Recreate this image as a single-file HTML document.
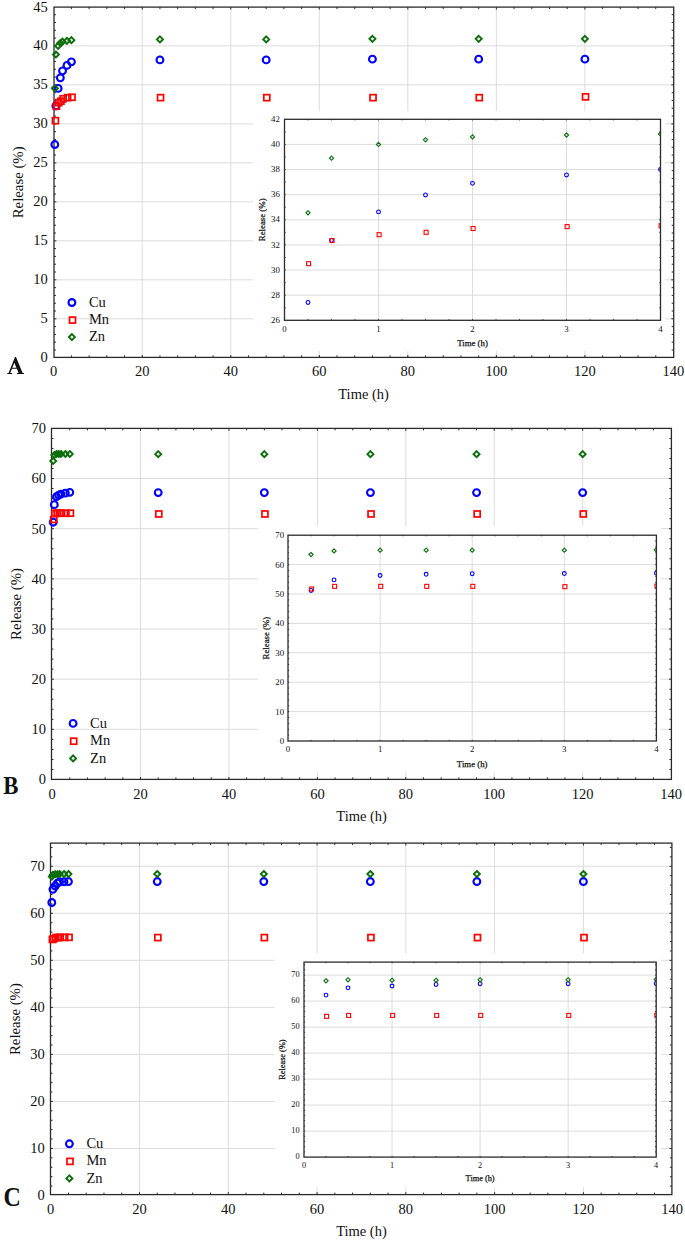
<!DOCTYPE html>
<html><head><meta charset="utf-8"><title>Release chart</title>
<style>
html,body{margin:0;padding:0;background:#fff;}
body{width:685px;height:1242px;overflow:hidden;font-family:"Liberation Serif",serif;}
svg{display:block;}
</style></head><body>
<svg width="685" height="1242" viewBox="0 0 685 1242" font-family='"Liberation Serif", serif'>
<rect width="685" height="1242" fill="#fff"/>
<line x1="142.24" y1="7.1" x2="142.24" y2="357.4" stroke="#dcdcdc" stroke-width="1"/>
<line x1="230.77" y1="7.1" x2="230.77" y2="357.4" stroke="#dcdcdc" stroke-width="1"/>
<line x1="319.31" y1="7.1" x2="319.31" y2="357.4" stroke="#dcdcdc" stroke-width="1"/>
<line x1="407.84" y1="7.1" x2="407.84" y2="357.4" stroke="#dcdcdc" stroke-width="1"/>
<line x1="496.38" y1="7.1" x2="496.38" y2="357.4" stroke="#dcdcdc" stroke-width="1"/>
<line x1="584.91" y1="7.1" x2="584.91" y2="357.4" stroke="#dcdcdc" stroke-width="1"/>
<line x1="54" y1="318.81" x2="673.7" y2="318.81" stroke="#dcdcdc" stroke-width="1"/>
<line x1="54" y1="279.82" x2="673.7" y2="279.82" stroke="#dcdcdc" stroke-width="1"/>
<line x1="54" y1="240.83" x2="673.7" y2="240.83" stroke="#dcdcdc" stroke-width="1"/>
<line x1="54" y1="201.84" x2="673.7" y2="201.84" stroke="#dcdcdc" stroke-width="1"/>
<line x1="54" y1="162.86" x2="673.7" y2="162.86" stroke="#dcdcdc" stroke-width="1"/>
<line x1="54" y1="123.87" x2="673.7" y2="123.87" stroke="#dcdcdc" stroke-width="1"/>
<line x1="54" y1="84.88" x2="673.7" y2="84.88" stroke="#dcdcdc" stroke-width="1"/>
<line x1="54" y1="45.89" x2="673.7" y2="45.89" stroke="#dcdcdc" stroke-width="1"/>
<path d="M71.41 357.4v-2M71.41 7.1v2M89.11 357.4v-2M89.11 7.1v2M106.82 357.4v-2M106.82 7.1v2M124.53 357.4v-2M124.53 7.1v2M142.24 357.4v-2.4M142.24 7.1v2.4M159.94 357.4v-2M159.94 7.1v2M177.65 357.4v-2M177.65 7.1v2M195.36 357.4v-2M195.36 7.1v2M213.06 357.4v-2M213.06 7.1v2M230.77 357.4v-2.4M230.77 7.1v2.4M248.48 357.4v-2M248.48 7.1v2M266.19 357.4v-2M266.19 7.1v2M283.89 357.4v-2M283.89 7.1v2M301.6 357.4v-2M301.6 7.1v2M319.31 357.4v-2.4M319.31 7.1v2.4M337.01 357.4v-2M337.01 7.1v2M354.72 357.4v-2M354.72 7.1v2M372.43 357.4v-2M372.43 7.1v2M390.14 357.4v-2M390.14 7.1v2M407.84 357.4v-2.4M407.84 7.1v2.4M425.55 357.4v-2M425.55 7.1v2M443.26 357.4v-2M443.26 7.1v2M460.96 357.4v-2M460.96 7.1v2M478.67 357.4v-2M478.67 7.1v2M496.38 357.4v-2.4M496.38 7.1v2.4M514.09 357.4v-2M514.09 7.1v2M531.79 357.4v-2M531.79 7.1v2M549.5 357.4v-2M549.5 7.1v2M567.21 357.4v-2M567.21 7.1v2M584.91 357.4v-2.4M584.91 7.1v2.4M602.62 357.4v-2M602.62 7.1v2M620.33 357.4v-2M620.33 7.1v2M638.04 357.4v-2M638.04 7.1v2M655.74 357.4v-2M655.74 7.1v2M54 350h2M673.7 350h-2M54 342.2h2M673.7 342.2h-2M54 334.41h2M673.7 334.41h-2M54 326.61h2M673.7 326.61h-2M54 318.81h2.4M673.7 318.81h-2.4M54 311.01h2M673.7 311.01h-2M54 303.22h2M673.7 303.22h-2M54 295.42h2M673.7 295.42h-2M54 287.62h2M673.7 287.62h-2M54 279.82h2.4M673.7 279.82h-2.4M54 272.02h2M673.7 272.02h-2M54 264.23h2M673.7 264.23h-2M54 256.43h2M673.7 256.43h-2M54 248.63h2M673.7 248.63h-2M54 240.83h2.4M673.7 240.83h-2.4M54 233.04h2M673.7 233.04h-2M54 225.24h2M673.7 225.24h-2M54 217.44h2M673.7 217.44h-2M54 209.64h2M673.7 209.64h-2M54 201.84h2.4M673.7 201.84h-2.4M54 194.05h2M673.7 194.05h-2M54 186.25h2M673.7 186.25h-2M54 178.45h2M673.7 178.45h-2M54 170.65h2M673.7 170.65h-2M54 162.86h2.4M673.7 162.86h-2.4M54 155.06h2M673.7 155.06h-2M54 147.26h2M673.7 147.26h-2M54 139.46h2M673.7 139.46h-2M54 131.66h2M673.7 131.66h-2M54 123.87h2.4M673.7 123.87h-2.4M54 116.07h2M673.7 116.07h-2M54 108.27h2M673.7 108.27h-2M54 100.47h2M673.7 100.47h-2M54 92.68h2M673.7 92.68h-2M54 84.88h2.4M673.7 84.88h-2.4M54 77.08h2M673.7 77.08h-2M54 69.28h2M673.7 69.28h-2M54 61.48h2M673.7 61.48h-2M54 53.69h2M673.7 53.69h-2M54 45.89h2.4M673.7 45.89h-2.4M54 38.09h2M673.7 38.09h-2M54 30.29h2M673.7 30.29h-2M54 22.5h2M673.7 22.5h-2M54 14.7h2M673.7 14.7h-2" stroke="#2b2b2b" stroke-width="1" fill="none"/>
<rect x="54" y="7.1" width="619.7" height="350.3" fill="none" stroke="#2b2b2b" stroke-width="1.3"/>
<text x="53.7" y="376.2" font-size="14.5" text-anchor="middle" font-weight="normal" fill="#111">0</text>
<text x="142.24" y="376.2" font-size="14.5" text-anchor="middle" font-weight="normal" fill="#111">20</text>
<text x="230.77" y="376.2" font-size="14.5" text-anchor="middle" font-weight="normal" fill="#111">40</text>
<text x="319.31" y="376.2" font-size="14.5" text-anchor="middle" font-weight="normal" fill="#111">60</text>
<text x="407.84" y="376.2" font-size="14.5" text-anchor="middle" font-weight="normal" fill="#111">80</text>
<text x="496.38" y="376.2" font-size="14.5" text-anchor="middle" font-weight="normal" fill="#111">100</text>
<text x="584.91" y="376.2" font-size="14.5" text-anchor="middle" font-weight="normal" fill="#111">120</text>
<text x="673.45" y="376.2" font-size="14.5" text-anchor="middle" font-weight="normal" fill="#111">140</text>
<text x="47.7" y="362.4" font-size="14.5" text-anchor="end" font-weight="normal" fill="#111">0</text>
<text x="47.7" y="323.41" font-size="14.5" text-anchor="end" font-weight="normal" fill="#111">5</text>
<text x="47.7" y="284.42" font-size="14.5" text-anchor="end" font-weight="normal" fill="#111">10</text>
<text x="47.7" y="245.43" font-size="14.5" text-anchor="end" font-weight="normal" fill="#111">15</text>
<text x="47.7" y="206.44" font-size="14.5" text-anchor="end" font-weight="normal" fill="#111">20</text>
<text x="47.7" y="167.46" font-size="14.5" text-anchor="end" font-weight="normal" fill="#111">25</text>
<text x="47.7" y="128.47" font-size="14.5" text-anchor="end" font-weight="normal" fill="#111">30</text>
<text x="47.7" y="89.48" font-size="14.5" text-anchor="end" font-weight="normal" fill="#111">35</text>
<text x="47.7" y="50.49" font-size="14.5" text-anchor="end" font-weight="normal" fill="#111">40</text>
<text x="47.7" y="11.5" font-size="14.5" text-anchor="end" font-weight="normal" fill="#111">45</text>
<text x="363.57" y="398.8" font-size="14.5" text-anchor="middle" font-weight="normal" fill="#111">Time (h)</text>
<text x="23.3" y="182.35" font-size="14.8" text-anchor="middle" font-weight="normal" fill="#111" transform="rotate(-90 23.3 182.35)">Release (%)</text>
<path fill-rule="evenodd" fill="#111" d="M7.2 373.9L12.2 373.9L12.2 372.9L10.3 372.9L11.9 368.8L16.9 368.8L18.6 372.9L16.9 372.9L16.9 373.9L23.9 373.9L23.9 372.9L22.6 372.9L16 357L15 357L8.6 372.9L7.2 372.9Z M12.3 367.7L16.4 367.7L14.34 362.66Z"/>
<circle cx="71.9" cy="302.5" r="3.4" fill="none" stroke="#0000ff" stroke-width="2.1"/>
<text x="88.9" y="306.7" font-size="14.5" text-anchor="start" font-weight="normal" fill="#111">Cu</text>
<rect x="69.5" y="317.1" width="6" height="6" fill="none" stroke="#ff0000" stroke-width="1.7"/>
<text x="88.9" y="324" font-size="14.5" text-anchor="start" font-weight="normal" fill="#111">Mn</text>
<path d="M71.9 334.1L74.9 337.1L71.9 340.1L68.9 337.1Z" fill="none" stroke="#0b6e0b" stroke-width="1.9" stroke-linejoin="miter"/>
<text x="88.9" y="341.3" font-size="14.5" text-anchor="start" font-weight="normal" fill="#111">Zn</text>
<circle cx="54.81" cy="144.53" r="3.4" fill="none" stroke="#0000ff" stroke-width="2.1"/>
<circle cx="55.91" cy="105.93" r="3.4" fill="none" stroke="#0000ff" stroke-width="2.1"/>
<circle cx="58.13" cy="88.39" r="3.4" fill="none" stroke="#0000ff" stroke-width="2.1"/>
<circle cx="60.34" cy="77.86" r="3.4" fill="none" stroke="#0000ff" stroke-width="2.1"/>
<circle cx="62.55" cy="70.84" r="3.4" fill="none" stroke="#0000ff" stroke-width="2.1"/>
<circle cx="66.98" cy="65.38" r="3.4" fill="none" stroke="#0000ff" stroke-width="2.1"/>
<circle cx="71.41" cy="61.87" r="3.4" fill="none" stroke="#0000ff" stroke-width="2.1"/>
<circle cx="159.94" cy="59.92" r="3.4" fill="none" stroke="#0000ff" stroke-width="2.1"/>
<circle cx="266.19" cy="59.92" r="3.4" fill="none" stroke="#0000ff" stroke-width="2.1"/>
<circle cx="372.43" cy="59.15" r="3.4" fill="none" stroke="#0000ff" stroke-width="2.1"/>
<circle cx="478.67" cy="59.15" r="3.4" fill="none" stroke="#0000ff" stroke-width="2.1"/>
<circle cx="584.91" cy="59.15" r="3.4" fill="none" stroke="#0000ff" stroke-width="2.1"/>
<rect x="52.41" y="117.66" width="6" height="6" fill="none" stroke="#ff0000" stroke-width="1.7"/>
<rect x="53.51" y="103.23" width="6" height="6" fill="none" stroke="#ff0000" stroke-width="1.7"/>
<rect x="55.73" y="99.72" width="6" height="6" fill="none" stroke="#ff0000" stroke-width="1.7"/>
<rect x="57.94" y="98.16" width="6" height="6" fill="none" stroke="#ff0000" stroke-width="1.7"/>
<rect x="60.15" y="95.82" width="6" height="6" fill="none" stroke="#ff0000" stroke-width="1.7"/>
<rect x="64.58" y="94.65" width="6" height="6" fill="none" stroke="#ff0000" stroke-width="1.7"/>
<rect x="69.01" y="94.26" width="6" height="6" fill="none" stroke="#ff0000" stroke-width="1.7"/>
<rect x="157.54" y="94.65" width="6" height="6" fill="none" stroke="#ff0000" stroke-width="1.7"/>
<rect x="263.79" y="94.65" width="6" height="6" fill="none" stroke="#ff0000" stroke-width="1.7"/>
<rect x="370.03" y="94.65" width="6" height="6" fill="none" stroke="#ff0000" stroke-width="1.7"/>
<rect x="476.27" y="94.65" width="6" height="6" fill="none" stroke="#ff0000" stroke-width="1.7"/>
<rect x="582.51" y="93.87" width="6" height="6" fill="none" stroke="#ff0000" stroke-width="1.7"/>
<path d="M54.81 85.31L57.81 88.31L54.81 91.31L51.81 88.31Z" fill="none" stroke="#0b6e0b" stroke-width="1.9" stroke-linejoin="miter"/>
<path d="M55.91 51.47L58.91 54.47L55.91 57.47L52.91 54.47Z" fill="none" stroke="#0b6e0b" stroke-width="1.9" stroke-linejoin="miter"/>
<path d="M58.13 42.89L61.13 45.89L58.13 48.89L55.13 45.89Z" fill="none" stroke="#0b6e0b" stroke-width="1.9" stroke-linejoin="miter"/>
<path d="M60.34 40L63.34 43L60.34 46L57.34 43Z" fill="none" stroke="#0b6e0b" stroke-width="1.9" stroke-linejoin="miter"/>
<path d="M62.55 38.6L65.55 41.6L62.55 44.6L59.55 41.6Z" fill="none" stroke="#0b6e0b" stroke-width="1.9" stroke-linejoin="miter"/>
<path d="M66.98 37.82L69.98 40.82L66.98 43.82L63.98 40.82Z" fill="none" stroke="#0b6e0b" stroke-width="1.9" stroke-linejoin="miter"/>
<path d="M71.41 37.2L74.41 40.2L71.41 43.2L68.41 40.2Z" fill="none" stroke="#0b6e0b" stroke-width="1.9" stroke-linejoin="miter"/>
<path d="M159.94 36.42L162.94 39.42L159.94 42.42L156.94 39.42Z" fill="none" stroke="#0b6e0b" stroke-width="1.9" stroke-linejoin="miter"/>
<path d="M266.19 36.42L269.19 39.42L266.19 42.42L263.19 39.42Z" fill="none" stroke="#0b6e0b" stroke-width="1.9" stroke-linejoin="miter"/>
<path d="M372.43 35.87L375.43 38.87L372.43 41.87L369.43 38.87Z" fill="none" stroke="#0b6e0b" stroke-width="1.9" stroke-linejoin="miter"/>
<path d="M478.67 35.87L481.67 38.87L478.67 41.87L475.67 38.87Z" fill="none" stroke="#0b6e0b" stroke-width="1.9" stroke-linejoin="miter"/>
<path d="M584.91 35.87L587.91 38.87L584.91 41.87L581.91 38.87Z" fill="none" stroke="#0b6e0b" stroke-width="1.9" stroke-linejoin="miter"/>
<rect x="253" y="111" width="412" height="240" fill="#fff"/>
<line x1="378.5" y1="119.3" x2="378.5" y2="320.3" stroke="#dcdcdc" stroke-width="1"/>
<line x1="472.5" y1="119.3" x2="472.5" y2="320.3" stroke="#dcdcdc" stroke-width="1"/>
<line x1="566.5" y1="119.3" x2="566.5" y2="320.3" stroke="#dcdcdc" stroke-width="1"/>
<line x1="284.5" y1="295.18" x2="660.5" y2="295.18" stroke="#dcdcdc" stroke-width="1"/>
<line x1="284.5" y1="270.05" x2="660.5" y2="270.05" stroke="#dcdcdc" stroke-width="1"/>
<line x1="284.5" y1="244.93" x2="660.5" y2="244.93" stroke="#dcdcdc" stroke-width="1"/>
<line x1="284.5" y1="219.8" x2="660.5" y2="219.8" stroke="#dcdcdc" stroke-width="1"/>
<line x1="284.5" y1="194.68" x2="660.5" y2="194.68" stroke="#dcdcdc" stroke-width="1"/>
<line x1="284.5" y1="169.55" x2="660.5" y2="169.55" stroke="#dcdcdc" stroke-width="1"/>
<line x1="284.5" y1="144.43" x2="660.5" y2="144.43" stroke="#dcdcdc" stroke-width="1"/>
<text x="284.5" y="331.6" font-size="8.8" text-anchor="middle" font-weight="normal" fill="#111">0</text>
<text x="378.5" y="331.6" font-size="8.8" text-anchor="middle" font-weight="normal" fill="#111">1</text>
<text x="472.5" y="331.6" font-size="8.8" text-anchor="middle" font-weight="normal" fill="#111">2</text>
<text x="566.5" y="331.6" font-size="8.8" text-anchor="middle" font-weight="normal" fill="#111">3</text>
<text x="660.5" y="331.6" font-size="8.8" text-anchor="middle" font-weight="normal" fill="#111">4</text>
<text x="279.9" y="322.9" font-size="8.8" text-anchor="end" font-weight="normal" fill="#111">26</text>
<text x="279.9" y="297.78" font-size="8.8" text-anchor="end" font-weight="normal" fill="#111">28</text>
<text x="279.9" y="272.65" font-size="8.8" text-anchor="end" font-weight="normal" fill="#111">30</text>
<text x="279.9" y="247.53" font-size="8.8" text-anchor="end" font-weight="normal" fill="#111">32</text>
<text x="279.9" y="222.4" font-size="8.8" text-anchor="end" font-weight="normal" fill="#111">34</text>
<text x="279.9" y="197.28" font-size="8.8" text-anchor="end" font-weight="normal" fill="#111">36</text>
<text x="279.9" y="172.15" font-size="8.8" text-anchor="end" font-weight="normal" fill="#111">38</text>
<text x="279.9" y="147.03" font-size="8.8" text-anchor="end" font-weight="normal" fill="#111">40</text>
<text x="279.9" y="121.9" font-size="8.8" text-anchor="end" font-weight="normal" fill="#111">42</text>
<text x="472.5" y="345.9" font-size="8.8" text-anchor="middle" font-weight="normal" fill="#111" stroke="#111" stroke-width="0.25">Time (h)</text>
<text x="264.8" y="219.8" font-size="8.8" text-anchor="middle" font-weight="normal" fill="#111" stroke="#111" stroke-width="0.25" transform="rotate(-90 264.8 219.8)">Release (%)</text>
<clipPath id="clipA"><rect x="284.5" y="119.3" width="376" height="201"/></clipPath>
<g clip-path="url(#clipA)">
<circle cx="308" cy="302.46" r="1.9" fill="none" stroke="#0000ff" stroke-width="1.1"/>
<circle cx="331.5" cy="240.28" r="1.9" fill="none" stroke="#0000ff" stroke-width="1.1"/>
<circle cx="378.5" cy="211.89" r="1.9" fill="none" stroke="#0000ff" stroke-width="1.1"/>
<circle cx="425.5" cy="194.93" r="1.9" fill="none" stroke="#0000ff" stroke-width="1.1"/>
<circle cx="472.5" cy="183.37" r="1.9" fill="none" stroke="#0000ff" stroke-width="1.1"/>
<circle cx="566.5" cy="174.95" r="1.9" fill="none" stroke="#0000ff" stroke-width="1.1"/>
<circle cx="660.5" cy="169.55" r="1.9" fill="none" stroke="#0000ff" stroke-width="1.1"/>
<rect x="306.6" y="261.69" width="4" height="4" fill="none" stroke="#ff0000" stroke-width="1.1"/>
<rect x="330.1" y="238.58" width="4" height="4" fill="none" stroke="#ff0000" stroke-width="1.1"/>
<rect x="377.1" y="232.67" width="4" height="4" fill="none" stroke="#ff0000" stroke-width="1.1"/>
<rect x="424.1" y="230.29" width="4" height="4" fill="none" stroke="#ff0000" stroke-width="1.1"/>
<rect x="471.1" y="226.52" width="4" height="4" fill="none" stroke="#ff0000" stroke-width="1.1"/>
<rect x="565.1" y="224.63" width="4" height="4" fill="none" stroke="#ff0000" stroke-width="1.1"/>
<rect x="659.1" y="223.75" width="4" height="4" fill="none" stroke="#ff0000" stroke-width="1.1"/>
<path d="M308 210.66L310.1 212.76L308 214.86L305.9 212.76Z" fill="none" stroke="#0b6e0b" stroke-width="1.1" stroke-linejoin="miter"/>
<path d="M331.5 156.14L333.6 158.24L331.5 160.34L329.4 158.24Z" fill="none" stroke="#0b6e0b" stroke-width="1.1" stroke-linejoin="miter"/>
<path d="M378.5 142.33L380.6 144.43L378.5 146.53L376.4 144.43Z" fill="none" stroke="#0b6e0b" stroke-width="1.1" stroke-linejoin="miter"/>
<path d="M425.5 137.68L427.6 139.78L425.5 141.88L423.4 139.78Z" fill="none" stroke="#0b6e0b" stroke-width="1.1" stroke-linejoin="miter"/>
<path d="M472.5 134.79L474.6 136.89L472.5 138.99L470.4 136.89Z" fill="none" stroke="#0b6e0b" stroke-width="1.1" stroke-linejoin="miter"/>
<path d="M566.5 132.9L568.6 135L566.5 137.1L564.4 135Z" fill="none" stroke="#0b6e0b" stroke-width="1.1" stroke-linejoin="miter"/>
<path d="M660.5 132.02L662.6 134.12L660.5 136.22L658.4 134.12Z" fill="none" stroke="#0b6e0b" stroke-width="1.1" stroke-linejoin="miter"/>
</g>
<path d="M308 320.3v-1.1M308 119.3v1.1M331.5 320.3v-1.1M331.5 119.3v1.1M355 320.3v-1.1M355 119.3v1.1M378.5 320.3v-1.1M378.5 119.3v1.1M402 320.3v-1.1M402 119.3v1.1M425.5 320.3v-1.1M425.5 119.3v1.1M449 320.3v-1.1M449 119.3v1.1M472.5 320.3v-1.1M472.5 119.3v1.1M496 320.3v-1.1M496 119.3v1.1M519.5 320.3v-1.1M519.5 119.3v1.1M543 320.3v-1.1M543 119.3v1.1M566.5 320.3v-1.1M566.5 119.3v1.1M590 320.3v-1.1M590 119.3v1.1M613.5 320.3v-1.1M613.5 119.3v1.1M637 320.3v-1.1M637 119.3v1.1M284.5 307.74h1.1M660.5 307.74h-1.1M284.5 295.18h1.1M660.5 295.18h-1.1M284.5 282.61h1.1M660.5 282.61h-1.1M284.5 270.05h1.1M660.5 270.05h-1.1M284.5 257.49h1.1M660.5 257.49h-1.1M284.5 244.93h1.1M660.5 244.93h-1.1M284.5 232.36h1.1M660.5 232.36h-1.1M284.5 219.8h1.1M660.5 219.8h-1.1M284.5 207.24h1.1M660.5 207.24h-1.1M284.5 194.68h1.1M660.5 194.68h-1.1M284.5 182.11h1.1M660.5 182.11h-1.1M284.5 169.55h1.1M660.5 169.55h-1.1M284.5 156.99h1.1M660.5 156.99h-1.1M284.5 144.43h1.1M660.5 144.43h-1.1M284.5 131.86h1.1M660.5 131.86h-1.1" stroke="#2b2b2b" stroke-width="1" fill="none"/>
<rect x="284.5" y="119.3" width="376" height="201" fill="none" stroke="#2b2b2b" stroke-width="1.3"/>
<line x1="140.53" y1="428.4" x2="140.53" y2="779.4" stroke="#dcdcdc" stroke-width="1"/>
<line x1="228.96" y1="428.4" x2="228.96" y2="779.4" stroke="#dcdcdc" stroke-width="1"/>
<line x1="317.39" y1="428.4" x2="317.39" y2="779.4" stroke="#dcdcdc" stroke-width="1"/>
<line x1="405.81" y1="428.4" x2="405.81" y2="779.4" stroke="#dcdcdc" stroke-width="1"/>
<line x1="494.24" y1="428.4" x2="494.24" y2="779.4" stroke="#dcdcdc" stroke-width="1"/>
<line x1="582.67" y1="428.4" x2="582.67" y2="779.4" stroke="#dcdcdc" stroke-width="1"/>
<line x1="51.5" y1="729.34" x2="671.4" y2="729.34" stroke="#dcdcdc" stroke-width="1"/>
<line x1="51.5" y1="679.19" x2="671.4" y2="679.19" stroke="#dcdcdc" stroke-width="1"/>
<line x1="51.5" y1="629.03" x2="671.4" y2="629.03" stroke="#dcdcdc" stroke-width="1"/>
<line x1="51.5" y1="578.87" x2="671.4" y2="578.87" stroke="#dcdcdc" stroke-width="1"/>
<line x1="51.5" y1="528.71" x2="671.4" y2="528.71" stroke="#dcdcdc" stroke-width="1"/>
<line x1="51.5" y1="478.56" x2="671.4" y2="478.56" stroke="#dcdcdc" stroke-width="1"/>
<path d="M69.79 779.4v-2M69.79 428.4v2M87.47 779.4v-2M87.47 428.4v2M105.16 779.4v-2M105.16 428.4v2M122.84 779.4v-2M122.84 428.4v2M140.53 779.4v-2.4M140.53 428.4v2.4M158.21 779.4v-2M158.21 428.4v2M175.9 779.4v-2M175.9 428.4v2M193.59 779.4v-2M193.59 428.4v2M211.27 779.4v-2M211.27 428.4v2M228.96 779.4v-2.4M228.96 428.4v2.4M246.64 779.4v-2M246.64 428.4v2M264.33 779.4v-2M264.33 428.4v2M282.01 779.4v-2M282.01 428.4v2M299.7 779.4v-2M299.7 428.4v2M317.39 779.4v-2.4M317.39 428.4v2.4M335.07 779.4v-2M335.07 428.4v2M352.76 779.4v-2M352.76 428.4v2M370.44 779.4v-2M370.44 428.4v2M388.13 779.4v-2M388.13 428.4v2M405.81 779.4v-2.4M405.81 428.4v2.4M423.5 779.4v-2M423.5 428.4v2M441.19 779.4v-2M441.19 428.4v2M458.87 779.4v-2M458.87 428.4v2M476.56 779.4v-2M476.56 428.4v2M494.24 779.4v-2.4M494.24 428.4v2.4M511.93 779.4v-2M511.93 428.4v2M529.61 779.4v-2M529.61 428.4v2M547.3 779.4v-2M547.3 428.4v2M564.99 779.4v-2M564.99 428.4v2M582.67 779.4v-2.4M582.67 428.4v2.4M600.36 779.4v-2M600.36 428.4v2M618.04 779.4v-2M618.04 428.4v2M635.73 779.4v-2M635.73 428.4v2M653.41 779.4v-2M653.41 428.4v2M51.5 769.47h2M671.4 769.47h-2M51.5 759.44h2M671.4 759.44h-2M51.5 749.41h2M671.4 749.41h-2M51.5 739.37h2M671.4 739.37h-2M51.5 729.34h2.4M671.4 729.34h-2.4M51.5 719.31h2M671.4 719.31h-2M51.5 709.28h2M671.4 709.28h-2M51.5 699.25h2M671.4 699.25h-2M51.5 689.22h2M671.4 689.22h-2M51.5 679.19h2.4M671.4 679.19h-2.4M51.5 669.15h2M671.4 669.15h-2M51.5 659.12h2M671.4 659.12h-2M51.5 649.09h2M671.4 649.09h-2M51.5 639.06h2M671.4 639.06h-2M51.5 629.03h2.4M671.4 629.03h-2.4M51.5 619h2M671.4 619h-2M51.5 608.97h2M671.4 608.97h-2M51.5 598.93h2M671.4 598.93h-2M51.5 588.9h2M671.4 588.9h-2M51.5 578.87h2.4M671.4 578.87h-2.4M51.5 568.84h2M671.4 568.84h-2M51.5 558.81h2M671.4 558.81h-2M51.5 548.78h2M671.4 548.78h-2M51.5 538.75h2M671.4 538.75h-2M51.5 528.71h2.4M671.4 528.71h-2.4M51.5 518.68h2M671.4 518.68h-2M51.5 508.65h2M671.4 508.65h-2M51.5 498.62h2M671.4 498.62h-2M51.5 488.59h2M671.4 488.59h-2M51.5 478.56h2.4M671.4 478.56h-2.4M51.5 468.53h2M671.4 468.53h-2M51.5 458.49h2M671.4 458.49h-2M51.5 448.46h2M671.4 448.46h-2M51.5 438.43h2M671.4 438.43h-2" stroke="#2b2b2b" stroke-width="1" fill="none"/>
<rect x="51.5" y="428.4" width="619.9" height="351" fill="none" stroke="#2b2b2b" stroke-width="1.3"/>
<text x="52.1" y="798.5" font-size="14.5" text-anchor="middle" font-weight="normal" fill="#111">0</text>
<text x="140.53" y="798.5" font-size="14.5" text-anchor="middle" font-weight="normal" fill="#111">20</text>
<text x="228.96" y="798.5" font-size="14.5" text-anchor="middle" font-weight="normal" fill="#111">40</text>
<text x="317.39" y="798.5" font-size="14.5" text-anchor="middle" font-weight="normal" fill="#111">60</text>
<text x="405.81" y="798.5" font-size="14.5" text-anchor="middle" font-weight="normal" fill="#111">80</text>
<text x="494.24" y="798.5" font-size="14.5" text-anchor="middle" font-weight="normal" fill="#111">100</text>
<text x="582.67" y="798.5" font-size="14.5" text-anchor="middle" font-weight="normal" fill="#111">120</text>
<text x="671.1" y="798.5" font-size="14.5" text-anchor="middle" font-weight="normal" fill="#111">140</text>
<text x="46.1" y="784.3" font-size="14.5" text-anchor="end" font-weight="normal" fill="#111">0</text>
<text x="46.1" y="734.14" font-size="14.5" text-anchor="end" font-weight="normal" fill="#111">10</text>
<text x="46.1" y="683.99" font-size="14.5" text-anchor="end" font-weight="normal" fill="#111">20</text>
<text x="46.1" y="633.83" font-size="14.5" text-anchor="end" font-weight="normal" fill="#111">30</text>
<text x="46.1" y="583.67" font-size="14.5" text-anchor="end" font-weight="normal" fill="#111">40</text>
<text x="46.1" y="533.51" font-size="14.5" text-anchor="end" font-weight="normal" fill="#111">50</text>
<text x="46.1" y="483.36" font-size="14.5" text-anchor="end" font-weight="normal" fill="#111">60</text>
<text x="46.1" y="433.2" font-size="14.5" text-anchor="end" font-weight="normal" fill="#111">70</text>
<text x="361.6" y="821.3" font-size="14.5" text-anchor="middle" font-weight="normal" fill="#111">Time (h)</text>
<text x="21" y="603.95" font-size="14.8" text-anchor="middle" font-weight="normal" fill="#111" transform="rotate(-90 21 603.95)">Release (%)</text>
<text transform="translate(3.3 793.9) scale(0.95 1.07)" font-size="24" font-weight="bold" fill="#111">B</text>
<circle cx="73.1" cy="723.4" r="3.4" fill="none" stroke="#0000ff" stroke-width="2.1"/>
<text x="90.1" y="727.6" font-size="14.5" text-anchor="start" font-weight="normal" fill="#111">Cu</text>
<rect x="70.7" y="738.2" width="6" height="6" fill="none" stroke="#ff0000" stroke-width="1.7"/>
<text x="90.1" y="745.1" font-size="14.5" text-anchor="start" font-weight="normal" fill="#111">Mn</text>
<path d="M73.1 755.4L76.1 758.4L73.1 761.4L70.1 758.4Z" fill="none" stroke="#0b6e0b" stroke-width="1.9" stroke-linejoin="miter"/>
<text x="90.1" y="762.6" font-size="14.5" text-anchor="start" font-weight="normal" fill="#111">Zn</text>
<circle cx="53.21" cy="522.19" r="3.4" fill="none" stroke="#0000ff" stroke-width="2.1"/>
<circle cx="54.31" cy="504.64" r="3.4" fill="none" stroke="#0000ff" stroke-width="2.1"/>
<circle cx="56.52" cy="496.61" r="3.4" fill="none" stroke="#0000ff" stroke-width="2.1"/>
<circle cx="58.73" cy="495.11" r="3.4" fill="none" stroke="#0000ff" stroke-width="2.1"/>
<circle cx="60.94" cy="494.11" r="3.4" fill="none" stroke="#0000ff" stroke-width="2.1"/>
<circle cx="65.36" cy="493.1" r="3.4" fill="none" stroke="#0000ff" stroke-width="2.1"/>
<circle cx="69.79" cy="492.35" r="3.4" fill="none" stroke="#0000ff" stroke-width="2.1"/>
<circle cx="158.21" cy="492.6" r="3.4" fill="none" stroke="#0000ff" stroke-width="2.1"/>
<circle cx="264.33" cy="492.6" r="3.4" fill="none" stroke="#0000ff" stroke-width="2.1"/>
<circle cx="370.44" cy="492.6" r="3.4" fill="none" stroke="#0000ff" stroke-width="2.1"/>
<circle cx="476.56" cy="492.6" r="3.4" fill="none" stroke="#0000ff" stroke-width="2.1"/>
<circle cx="582.67" cy="492.6" r="3.4" fill="none" stroke="#0000ff" stroke-width="2.1"/>
<rect x="50.81" y="516.48" width="6" height="6" fill="none" stroke="#ff0000" stroke-width="1.7"/>
<rect x="51.91" y="510.47" width="6" height="6" fill="none" stroke="#ff0000" stroke-width="1.7"/>
<rect x="54.12" y="510.21" width="6" height="6" fill="none" stroke="#ff0000" stroke-width="1.7"/>
<rect x="56.33" y="510.21" width="6" height="6" fill="none" stroke="#ff0000" stroke-width="1.7"/>
<rect x="58.54" y="510.21" width="6" height="6" fill="none" stroke="#ff0000" stroke-width="1.7"/>
<rect x="62.96" y="510.21" width="6" height="6" fill="none" stroke="#ff0000" stroke-width="1.7"/>
<rect x="67.39" y="510.21" width="6" height="6" fill="none" stroke="#ff0000" stroke-width="1.7"/>
<rect x="155.81" y="510.97" width="6" height="6" fill="none" stroke="#ff0000" stroke-width="1.7"/>
<rect x="261.93" y="510.97" width="6" height="6" fill="none" stroke="#ff0000" stroke-width="1.7"/>
<rect x="368.04" y="510.97" width="6" height="6" fill="none" stroke="#ff0000" stroke-width="1.7"/>
<rect x="474.16" y="510.97" width="6" height="6" fill="none" stroke="#ff0000" stroke-width="1.7"/>
<rect x="580.27" y="510.97" width="6" height="6" fill="none" stroke="#ff0000" stroke-width="1.7"/>
<path d="M53.21 458L56.21 461L53.21 464L50.21 461Z" fill="none" stroke="#0b6e0b" stroke-width="1.9" stroke-linejoin="miter"/>
<path d="M54.31 451.98L57.31 454.98L54.31 457.98L51.31 454.98Z" fill="none" stroke="#0b6e0b" stroke-width="1.9" stroke-linejoin="miter"/>
<path d="M56.52 450.98L59.52 453.98L56.52 456.98L53.52 453.98Z" fill="none" stroke="#0b6e0b" stroke-width="1.9" stroke-linejoin="miter"/>
<path d="M58.73 450.98L61.73 453.98L58.73 456.98L55.73 453.98Z" fill="none" stroke="#0b6e0b" stroke-width="1.9" stroke-linejoin="miter"/>
<path d="M60.94 450.98L63.94 453.98L60.94 456.98L57.94 453.98Z" fill="none" stroke="#0b6e0b" stroke-width="1.9" stroke-linejoin="miter"/>
<path d="M65.36 450.98L68.36 453.98L65.36 456.98L62.36 453.98Z" fill="none" stroke="#0b6e0b" stroke-width="1.9" stroke-linejoin="miter"/>
<path d="M69.79 450.98L72.79 453.98L69.79 456.98L66.79 453.98Z" fill="none" stroke="#0b6e0b" stroke-width="1.9" stroke-linejoin="miter"/>
<path d="M158.21 451.18L161.21 454.18L158.21 457.18L155.21 454.18Z" fill="none" stroke="#0b6e0b" stroke-width="1.9" stroke-linejoin="miter"/>
<path d="M264.33 451.18L267.33 454.18L264.33 457.18L261.33 454.18Z" fill="none" stroke="#0b6e0b" stroke-width="1.9" stroke-linejoin="miter"/>
<path d="M370.44 451.18L373.44 454.18L370.44 457.18L367.44 454.18Z" fill="none" stroke="#0b6e0b" stroke-width="1.9" stroke-linejoin="miter"/>
<path d="M476.56 451.18L479.56 454.18L476.56 457.18L473.56 454.18Z" fill="none" stroke="#0b6e0b" stroke-width="1.9" stroke-linejoin="miter"/>
<path d="M582.67 451.18L585.67 454.18L582.67 457.18L579.67 454.18Z" fill="none" stroke="#0b6e0b" stroke-width="1.9" stroke-linejoin="miter"/>
<rect x="258" y="526" width="402.5" height="246" fill="#fff"/>
<line x1="380.1" y1="535.2" x2="380.1" y2="741" stroke="#dcdcdc" stroke-width="1"/>
<line x1="472.2" y1="535.2" x2="472.2" y2="741" stroke="#dcdcdc" stroke-width="1"/>
<line x1="564.3" y1="535.2" x2="564.3" y2="741" stroke="#dcdcdc" stroke-width="1"/>
<line x1="288" y1="711.6" x2="656.4" y2="711.6" stroke="#dcdcdc" stroke-width="1"/>
<line x1="288" y1="682.2" x2="656.4" y2="682.2" stroke="#dcdcdc" stroke-width="1"/>
<line x1="288" y1="652.8" x2="656.4" y2="652.8" stroke="#dcdcdc" stroke-width="1"/>
<line x1="288" y1="623.4" x2="656.4" y2="623.4" stroke="#dcdcdc" stroke-width="1"/>
<line x1="288" y1="594" x2="656.4" y2="594" stroke="#dcdcdc" stroke-width="1"/>
<line x1="288" y1="564.6" x2="656.4" y2="564.6" stroke="#dcdcdc" stroke-width="1"/>
<text x="288" y="752.3" font-size="8.8" text-anchor="middle" font-weight="normal" fill="#111">0</text>
<text x="380.1" y="752.3" font-size="8.8" text-anchor="middle" font-weight="normal" fill="#111">1</text>
<text x="472.2" y="752.3" font-size="8.8" text-anchor="middle" font-weight="normal" fill="#111">2</text>
<text x="564.3" y="752.3" font-size="8.8" text-anchor="middle" font-weight="normal" fill="#111">3</text>
<text x="656.4" y="752.3" font-size="8.8" text-anchor="middle" font-weight="normal" fill="#111">4</text>
<text x="284.1" y="744" font-size="8.8" text-anchor="end" font-weight="normal" fill="#111">0</text>
<text x="284.1" y="714.6" font-size="8.8" text-anchor="end" font-weight="normal" fill="#111">10</text>
<text x="284.1" y="685.2" font-size="8.8" text-anchor="end" font-weight="normal" fill="#111">20</text>
<text x="284.1" y="655.8" font-size="8.8" text-anchor="end" font-weight="normal" fill="#111">30</text>
<text x="284.1" y="626.4" font-size="8.8" text-anchor="end" font-weight="normal" fill="#111">40</text>
<text x="284.1" y="597" font-size="8.8" text-anchor="end" font-weight="normal" fill="#111">50</text>
<text x="284.1" y="567.6" font-size="8.8" text-anchor="end" font-weight="normal" fill="#111">60</text>
<text x="284.1" y="538.2" font-size="8.8" text-anchor="end" font-weight="normal" fill="#111">70</text>
<text x="472.2" y="766.6" font-size="8.8" text-anchor="middle" font-weight="normal" fill="#111" stroke="#111" stroke-width="0.25">Time (h)</text>
<text x="269" y="638.1" font-size="8.8" text-anchor="middle" font-weight="normal" fill="#111" stroke="#111" stroke-width="0.25" transform="rotate(-90 269 638.1)">Release (%)</text>
<clipPath id="clipB"><rect x="288" y="535.2" width="368.4" height="205.8"/></clipPath>
<g clip-path="url(#clipB)">
<circle cx="311.02" cy="590.47" r="1.9" fill="none" stroke="#0000ff" stroke-width="1.1"/>
<circle cx="334.05" cy="579.89" r="1.9" fill="none" stroke="#0000ff" stroke-width="1.1"/>
<circle cx="380.1" cy="575.48" r="1.9" fill="none" stroke="#0000ff" stroke-width="1.1"/>
<circle cx="426.15" cy="574.3" r="1.9" fill="none" stroke="#0000ff" stroke-width="1.1"/>
<circle cx="472.2" cy="573.71" r="1.9" fill="none" stroke="#0000ff" stroke-width="1.1"/>
<circle cx="564.3" cy="573.57" r="1.9" fill="none" stroke="#0000ff" stroke-width="1.1"/>
<circle cx="656.4" cy="573.13" r="1.9" fill="none" stroke="#0000ff" stroke-width="1.1"/>
<rect x="309.62" y="587.01" width="4" height="4" fill="none" stroke="#ff0000" stroke-width="1.1"/>
<rect x="332.65" y="584.36" width="4" height="4" fill="none" stroke="#ff0000" stroke-width="1.1"/>
<rect x="378.7" y="584.36" width="4" height="4" fill="none" stroke="#ff0000" stroke-width="1.1"/>
<rect x="424.75" y="584.36" width="4" height="4" fill="none" stroke="#ff0000" stroke-width="1.1"/>
<rect x="470.8" y="584.36" width="4" height="4" fill="none" stroke="#ff0000" stroke-width="1.1"/>
<rect x="562.9" y="584.66" width="4" height="4" fill="none" stroke="#ff0000" stroke-width="1.1"/>
<rect x="655" y="584.07" width="4" height="4" fill="none" stroke="#ff0000" stroke-width="1.1"/>
<path d="M311.02 552.5L313.12 554.6L311.02 556.7L308.92 554.6Z" fill="none" stroke="#0b6e0b" stroke-width="1.1" stroke-linejoin="miter"/>
<path d="M334.05 548.8L336.15 550.9L334.05 553L331.95 550.9Z" fill="none" stroke="#0b6e0b" stroke-width="1.1" stroke-linejoin="miter"/>
<path d="M380.1 548.09L382.2 550.19L380.1 552.29L378 550.19Z" fill="none" stroke="#0b6e0b" stroke-width="1.1" stroke-linejoin="miter"/>
<path d="M426.15 548.09L428.25 550.19L426.15 552.29L424.05 550.19Z" fill="none" stroke="#0b6e0b" stroke-width="1.1" stroke-linejoin="miter"/>
<path d="M472.2 548.09L474.3 550.19L472.2 552.29L470.1 550.19Z" fill="none" stroke="#0b6e0b" stroke-width="1.1" stroke-linejoin="miter"/>
<path d="M564.3 548.09L566.4 550.19L564.3 552.29L562.2 550.19Z" fill="none" stroke="#0b6e0b" stroke-width="1.1" stroke-linejoin="miter"/>
<path d="M656.4 547.8L658.5 549.9L656.4 552L654.3 549.9Z" fill="none" stroke="#0b6e0b" stroke-width="1.1" stroke-linejoin="miter"/>
</g>
<path d="M311.02 741v-1.1M311.02 535.2v1.1M334.05 741v-1.1M334.05 535.2v1.1M357.07 741v-1.1M357.07 535.2v1.1M380.1 741v-1.1M380.1 535.2v1.1M403.12 741v-1.1M403.12 535.2v1.1M426.15 741v-1.1M426.15 535.2v1.1M449.17 741v-1.1M449.17 535.2v1.1M472.2 741v-1.1M472.2 535.2v1.1M495.23 741v-1.1M495.23 535.2v1.1M518.25 741v-1.1M518.25 535.2v1.1M541.27 741v-1.1M541.27 535.2v1.1M564.3 741v-1.1M564.3 535.2v1.1M587.33 741v-1.1M587.33 535.2v1.1M610.35 741v-1.1M610.35 535.2v1.1M633.38 741v-1.1M633.38 535.2v1.1M288 735.12h1.1M656.4 735.12h-1.1M288 729.24h1.1M656.4 729.24h-1.1M288 723.36h1.1M656.4 723.36h-1.1M288 717.48h1.1M656.4 717.48h-1.1M288 711.6h1.1M656.4 711.6h-1.1M288 705.72h1.1M656.4 705.72h-1.1M288 699.84h1.1M656.4 699.84h-1.1M288 693.96h1.1M656.4 693.96h-1.1M288 688.08h1.1M656.4 688.08h-1.1M288 682.2h1.1M656.4 682.2h-1.1M288 676.32h1.1M656.4 676.32h-1.1M288 670.44h1.1M656.4 670.44h-1.1M288 664.56h1.1M656.4 664.56h-1.1M288 658.68h1.1M656.4 658.68h-1.1M288 652.8h1.1M656.4 652.8h-1.1M288 646.92h1.1M656.4 646.92h-1.1M288 641.04h1.1M656.4 641.04h-1.1M288 635.16h1.1M656.4 635.16h-1.1M288 629.28h1.1M656.4 629.28h-1.1M288 623.4h1.1M656.4 623.4h-1.1M288 617.52h1.1M656.4 617.52h-1.1M288 611.64h1.1M656.4 611.64h-1.1M288 605.76h1.1M656.4 605.76h-1.1M288 599.88h1.1M656.4 599.88h-1.1M288 594h1.1M656.4 594h-1.1M288 588.12h1.1M656.4 588.12h-1.1M288 582.24h1.1M656.4 582.24h-1.1M288 576.36h1.1M656.4 576.36h-1.1M288 570.48h1.1M656.4 570.48h-1.1M288 564.6h1.1M656.4 564.6h-1.1M288 558.72h1.1M656.4 558.72h-1.1M288 552.84h1.1M656.4 552.84h-1.1M288 546.96h1.1M656.4 546.96h-1.1M288 541.08h1.1M656.4 541.08h-1.1" stroke="#2b2b2b" stroke-width="1" fill="none"/>
<rect x="288" y="535.2" width="368.4" height="205.8" fill="none" stroke="#2b2b2b" stroke-width="1.3"/>
<line x1="139.49" y1="843.1" x2="139.49" y2="1194.6" stroke="#dcdcdc" stroke-width="1"/>
<line x1="228.27" y1="843.1" x2="228.27" y2="1194.6" stroke="#dcdcdc" stroke-width="1"/>
<line x1="317.06" y1="843.1" x2="317.06" y2="1194.6" stroke="#dcdcdc" stroke-width="1"/>
<line x1="405.84" y1="843.1" x2="405.84" y2="1194.6" stroke="#dcdcdc" stroke-width="1"/>
<line x1="494.63" y1="843.1" x2="494.63" y2="1194.6" stroke="#dcdcdc" stroke-width="1"/>
<line x1="583.41" y1="843.1" x2="583.41" y2="1194.6" stroke="#dcdcdc" stroke-width="1"/>
<line x1="50.5" y1="1148.47" x2="671.9" y2="1148.47" stroke="#dcdcdc" stroke-width="1"/>
<line x1="50.5" y1="1101.43" x2="671.9" y2="1101.43" stroke="#dcdcdc" stroke-width="1"/>
<line x1="50.5" y1="1054.4" x2="671.9" y2="1054.4" stroke="#dcdcdc" stroke-width="1"/>
<line x1="50.5" y1="1007.37" x2="671.9" y2="1007.37" stroke="#dcdcdc" stroke-width="1"/>
<line x1="50.5" y1="960.33" x2="671.9" y2="960.33" stroke="#dcdcdc" stroke-width="1"/>
<line x1="50.5" y1="913.3" x2="671.9" y2="913.3" stroke="#dcdcdc" stroke-width="1"/>
<line x1="50.5" y1="866.27" x2="671.9" y2="866.27" stroke="#dcdcdc" stroke-width="1"/>
<path d="M68.46 1194.6v-2M68.46 843.1v2M86.21 1194.6v-2M86.21 843.1v2M103.97 1194.6v-2M103.97 843.1v2M121.73 1194.6v-2M121.73 843.1v2M139.49 1194.6v-2.4M139.49 843.1v2.4M157.24 1194.6v-2M157.24 843.1v2M175 1194.6v-2M175 843.1v2M192.76 1194.6v-2M192.76 843.1v2M210.51 1194.6v-2M210.51 843.1v2M228.27 1194.6v-2.4M228.27 843.1v2.4M246.03 1194.6v-2M246.03 843.1v2M263.79 1194.6v-2M263.79 843.1v2M281.54 1194.6v-2M281.54 843.1v2M299.3 1194.6v-2M299.3 843.1v2M317.06 1194.6v-2.4M317.06 843.1v2.4M334.81 1194.6v-2M334.81 843.1v2M352.57 1194.6v-2M352.57 843.1v2M370.33 1194.6v-2M370.33 843.1v2M388.09 1194.6v-2M388.09 843.1v2M405.84 1194.6v-2.4M405.84 843.1v2.4M423.6 1194.6v-2M423.6 843.1v2M441.36 1194.6v-2M441.36 843.1v2M459.11 1194.6v-2M459.11 843.1v2M476.87 1194.6v-2M476.87 843.1v2M494.63 1194.6v-2.4M494.63 843.1v2.4M512.39 1194.6v-2M512.39 843.1v2M530.14 1194.6v-2M530.14 843.1v2M547.9 1194.6v-2M547.9 843.1v2M565.66 1194.6v-2M565.66 843.1v2M583.41 1194.6v-2.4M583.41 843.1v2.4M601.17 1194.6v-2M601.17 843.1v2M618.93 1194.6v-2M618.93 843.1v2M636.69 1194.6v-2M636.69 843.1v2M654.44 1194.6v-2M654.44 843.1v2M50.5 1186.09h2M671.9 1186.09h-2M50.5 1176.69h2M671.9 1176.69h-2M50.5 1167.28h2M671.9 1167.28h-2M50.5 1157.87h2M671.9 1157.87h-2M50.5 1148.47h2.4M671.9 1148.47h-2.4M50.5 1139.06h2M671.9 1139.06h-2M50.5 1129.65h2M671.9 1129.65h-2M50.5 1120.25h2M671.9 1120.25h-2M50.5 1110.84h2M671.9 1110.84h-2M50.5 1101.43h2.4M671.9 1101.43h-2.4M50.5 1092.03h2M671.9 1092.03h-2M50.5 1082.62h2M671.9 1082.62h-2M50.5 1073.21h2M671.9 1073.21h-2M50.5 1063.81h2M671.9 1063.81h-2M50.5 1054.4h2.4M671.9 1054.4h-2.4M50.5 1044.99h2M671.9 1044.99h-2M50.5 1035.59h2M671.9 1035.59h-2M50.5 1026.18h2M671.9 1026.18h-2M50.5 1016.77h2M671.9 1016.77h-2M50.5 1007.37h2.4M671.9 1007.37h-2.4M50.5 997.96h2M671.9 997.96h-2M50.5 988.55h2M671.9 988.55h-2M50.5 979.15h2M671.9 979.15h-2M50.5 969.74h2M671.9 969.74h-2M50.5 960.33h2.4M671.9 960.33h-2.4M50.5 950.93h2M671.9 950.93h-2M50.5 941.52h2M671.9 941.52h-2M50.5 932.11h2M671.9 932.11h-2M50.5 922.71h2M671.9 922.71h-2M50.5 913.3h2.4M671.9 913.3h-2.4M50.5 903.89h2M671.9 903.89h-2M50.5 894.49h2M671.9 894.49h-2M50.5 885.08h2M671.9 885.08h-2M50.5 875.67h2M671.9 875.67h-2M50.5 866.27h2.4M671.9 866.27h-2.4M50.5 856.86h2M671.9 856.86h-2M50.5 847.45h2M671.9 847.45h-2" stroke="#2b2b2b" stroke-width="1" fill="none"/>
<rect x="50.5" y="843.1" width="621.4" height="351.5" fill="none" stroke="#2b2b2b" stroke-width="1.3"/>
<text x="50.7" y="1213.8" font-size="14.5" text-anchor="middle" font-weight="normal" fill="#111">0</text>
<text x="139.49" y="1213.8" font-size="14.5" text-anchor="middle" font-weight="normal" fill="#111">20</text>
<text x="228.27" y="1213.8" font-size="14.5" text-anchor="middle" font-weight="normal" fill="#111">40</text>
<text x="317.06" y="1213.8" font-size="14.5" text-anchor="middle" font-weight="normal" fill="#111">60</text>
<text x="405.84" y="1213.8" font-size="14.5" text-anchor="middle" font-weight="normal" fill="#111">80</text>
<text x="494.63" y="1213.8" font-size="14.5" text-anchor="middle" font-weight="normal" fill="#111">100</text>
<text x="583.41" y="1213.8" font-size="14.5" text-anchor="middle" font-weight="normal" fill="#111">120</text>
<text x="672.2" y="1213.8" font-size="14.5" text-anchor="middle" font-weight="normal" fill="#111">140</text>
<text x="44.7" y="1200.3" font-size="14.5" text-anchor="end" font-weight="normal" fill="#111">0</text>
<text x="44.7" y="1153.27" font-size="14.5" text-anchor="end" font-weight="normal" fill="#111">10</text>
<text x="44.7" y="1106.23" font-size="14.5" text-anchor="end" font-weight="normal" fill="#111">20</text>
<text x="44.7" y="1059.2" font-size="14.5" text-anchor="end" font-weight="normal" fill="#111">30</text>
<text x="44.7" y="1012.17" font-size="14.5" text-anchor="end" font-weight="normal" fill="#111">40</text>
<text x="44.7" y="965.13" font-size="14.5" text-anchor="end" font-weight="normal" fill="#111">50</text>
<text x="44.7" y="918.1" font-size="14.5" text-anchor="end" font-weight="normal" fill="#111">60</text>
<text x="44.7" y="871.07" font-size="14.5" text-anchor="end" font-weight="normal" fill="#111">70</text>
<text x="361.45" y="1236" font-size="14.5" text-anchor="middle" font-weight="normal" fill="#111">Time (h)</text>
<text x="20" y="1019.12" font-size="14.8" text-anchor="middle" font-weight="normal" fill="#111" transform="rotate(-90 20 1019.12)">Release (%)</text>
<text transform="translate(3.5 1205.8) scale(1.0 1.11)" font-size="24" font-weight="bold" fill="#111">C</text>
<circle cx="69.4" cy="1143.8" r="3.4" fill="none" stroke="#0000ff" stroke-width="2.1"/>
<text x="86.4" y="1148" font-size="14.5" text-anchor="start" font-weight="normal" fill="#111">Cu</text>
<rect x="67" y="1158.4" width="6" height="6" fill="none" stroke="#ff0000" stroke-width="1.7"/>
<text x="86.4" y="1165.3" font-size="14.5" text-anchor="start" font-weight="normal" fill="#111">Mn</text>
<path d="M69.4 1175.4L72.4 1178.4L69.4 1181.4L66.4 1178.4Z" fill="none" stroke="#0b6e0b" stroke-width="1.9" stroke-linejoin="miter"/>
<text x="86.4" y="1182.6" font-size="14.5" text-anchor="start" font-weight="normal" fill="#111">Zn</text>
<circle cx="51.81" cy="902.48" r="3.4" fill="none" stroke="#0000ff" stroke-width="2.1"/>
<circle cx="52.92" cy="889.31" r="3.4" fill="none" stroke="#0000ff" stroke-width="2.1"/>
<circle cx="55.14" cy="886.02" r="3.4" fill="none" stroke="#0000ff" stroke-width="2.1"/>
<circle cx="57.36" cy="883.2" r="3.4" fill="none" stroke="#0000ff" stroke-width="2.1"/>
<circle cx="59.58" cy="881.79" r="3.4" fill="none" stroke="#0000ff" stroke-width="2.1"/>
<circle cx="64.02" cy="881.79" r="3.4" fill="none" stroke="#0000ff" stroke-width="2.1"/>
<circle cx="68.46" cy="881.55" r="3.4" fill="none" stroke="#0000ff" stroke-width="2.1"/>
<circle cx="157.24" cy="881.55" r="3.4" fill="none" stroke="#0000ff" stroke-width="2.1"/>
<circle cx="263.79" cy="881.55" r="3.4" fill="none" stroke="#0000ff" stroke-width="2.1"/>
<circle cx="370.33" cy="881.55" r="3.4" fill="none" stroke="#0000ff" stroke-width="2.1"/>
<circle cx="476.87" cy="881.55" r="3.4" fill="none" stroke="#0000ff" stroke-width="2.1"/>
<circle cx="583.41" cy="881.55" r="3.4" fill="none" stroke="#0000ff" stroke-width="2.1"/>
<rect x="49.41" y="936.47" width="6" height="6" fill="none" stroke="#ff0000" stroke-width="1.7"/>
<rect x="50.52" y="936" width="6" height="6" fill="none" stroke="#ff0000" stroke-width="1.7"/>
<rect x="52.74" y="934.59" width="6" height="6" fill="none" stroke="#ff0000" stroke-width="1.7"/>
<rect x="54.96" y="934.59" width="6" height="6" fill="none" stroke="#ff0000" stroke-width="1.7"/>
<rect x="57.18" y="934.35" width="6" height="6" fill="none" stroke="#ff0000" stroke-width="1.7"/>
<rect x="61.62" y="934.35" width="6" height="6" fill="none" stroke="#ff0000" stroke-width="1.7"/>
<rect x="66.06" y="934.35" width="6" height="6" fill="none" stroke="#ff0000" stroke-width="1.7"/>
<rect x="154.84" y="934.59" width="6" height="6" fill="none" stroke="#ff0000" stroke-width="1.7"/>
<rect x="261.39" y="934.59" width="6" height="6" fill="none" stroke="#ff0000" stroke-width="1.7"/>
<rect x="367.93" y="934.59" width="6" height="6" fill="none" stroke="#ff0000" stroke-width="1.7"/>
<rect x="474.47" y="934.59" width="6" height="6" fill="none" stroke="#ff0000" stroke-width="1.7"/>
<rect x="581.01" y="934.59" width="6" height="6" fill="none" stroke="#ff0000" stroke-width="1.7"/>
<path d="M51.81 873.61L54.81 876.61L51.81 879.61L48.81 876.61Z" fill="none" stroke="#0b6e0b" stroke-width="1.9" stroke-linejoin="miter"/>
<path d="M52.92 871.73L55.92 874.73L52.92 877.73L49.92 874.73Z" fill="none" stroke="#0b6e0b" stroke-width="1.9" stroke-linejoin="miter"/>
<path d="M55.14 871.26L58.14 874.26L55.14 877.26L52.14 874.26Z" fill="none" stroke="#0b6e0b" stroke-width="1.9" stroke-linejoin="miter"/>
<path d="M57.36 871.26L60.36 874.26L57.36 877.26L54.36 874.26Z" fill="none" stroke="#0b6e0b" stroke-width="1.9" stroke-linejoin="miter"/>
<path d="M59.58 871.03L62.58 874.03L59.58 877.03L56.58 874.03Z" fill="none" stroke="#0b6e0b" stroke-width="1.9" stroke-linejoin="miter"/>
<path d="M64.02 871.03L67.02 874.03L64.02 877.03L61.02 874.03Z" fill="none" stroke="#0b6e0b" stroke-width="1.9" stroke-linejoin="miter"/>
<path d="M68.46 871.03L71.46 874.03L68.46 877.03L65.46 874.03Z" fill="none" stroke="#0b6e0b" stroke-width="1.9" stroke-linejoin="miter"/>
<path d="M157.24 870.98L160.24 873.98L157.24 876.98L154.24 873.98Z" fill="none" stroke="#0b6e0b" stroke-width="1.9" stroke-linejoin="miter"/>
<path d="M263.79 870.98L266.79 873.98L263.79 876.98L260.79 873.98Z" fill="none" stroke="#0b6e0b" stroke-width="1.9" stroke-linejoin="miter"/>
<path d="M370.33 870.98L373.33 873.98L370.33 876.98L367.33 873.98Z" fill="none" stroke="#0b6e0b" stroke-width="1.9" stroke-linejoin="miter"/>
<path d="M476.87 870.98L479.87 873.98L476.87 876.98L473.87 873.98Z" fill="none" stroke="#0b6e0b" stroke-width="1.9" stroke-linejoin="miter"/>
<path d="M583.41 870.98L586.41 873.98L583.41 876.98L580.41 873.98Z" fill="none" stroke="#0b6e0b" stroke-width="1.9" stroke-linejoin="miter"/>
<rect x="274.5" y="953.4" width="386.3" height="233.9" fill="#fff"/>
<line x1="392.05" y1="962.1" x2="392.05" y2="1157.1" stroke="#dcdcdc" stroke-width="1"/>
<line x1="480.1" y1="962.1" x2="480.1" y2="1157.1" stroke="#dcdcdc" stroke-width="1"/>
<line x1="568.15" y1="962.1" x2="568.15" y2="1157.1" stroke="#dcdcdc" stroke-width="1"/>
<line x1="304" y1="1131.1" x2="656.2" y2="1131.1" stroke="#dcdcdc" stroke-width="1"/>
<line x1="304" y1="1105.1" x2="656.2" y2="1105.1" stroke="#dcdcdc" stroke-width="1"/>
<line x1="304" y1="1079.1" x2="656.2" y2="1079.1" stroke="#dcdcdc" stroke-width="1"/>
<line x1="304" y1="1053.1" x2="656.2" y2="1053.1" stroke="#dcdcdc" stroke-width="1"/>
<line x1="304" y1="1027.1" x2="656.2" y2="1027.1" stroke="#dcdcdc" stroke-width="1"/>
<line x1="304" y1="1001.1" x2="656.2" y2="1001.1" stroke="#dcdcdc" stroke-width="1"/>
<line x1="304" y1="975.1" x2="656.2" y2="975.1" stroke="#dcdcdc" stroke-width="1"/>
<text x="304" y="1168" font-size="8.3" text-anchor="middle" font-weight="normal" fill="#111">0</text>
<text x="392.05" y="1168" font-size="8.3" text-anchor="middle" font-weight="normal" fill="#111">1</text>
<text x="480.1" y="1168" font-size="8.3" text-anchor="middle" font-weight="normal" fill="#111">2</text>
<text x="568.15" y="1168" font-size="8.3" text-anchor="middle" font-weight="normal" fill="#111">3</text>
<text x="656.2" y="1168" font-size="8.3" text-anchor="middle" font-weight="normal" fill="#111">4</text>
<text x="299.6" y="1159" font-size="8.3" text-anchor="end" font-weight="normal" fill="#111">0</text>
<text x="299.6" y="1133" font-size="8.3" text-anchor="end" font-weight="normal" fill="#111">10</text>
<text x="299.6" y="1107" font-size="8.3" text-anchor="end" font-weight="normal" fill="#111">20</text>
<text x="299.6" y="1081" font-size="8.3" text-anchor="end" font-weight="normal" fill="#111">30</text>
<text x="299.6" y="1055" font-size="8.3" text-anchor="end" font-weight="normal" fill="#111">40</text>
<text x="299.6" y="1029" font-size="8.3" text-anchor="end" font-weight="normal" fill="#111">50</text>
<text x="299.6" y="1003" font-size="8.3" text-anchor="end" font-weight="normal" fill="#111">60</text>
<text x="299.6" y="977" font-size="8.3" text-anchor="end" font-weight="normal" fill="#111">70</text>
<text x="480.1" y="1180.6" font-size="8.3" text-anchor="middle" font-weight="normal" fill="#111" stroke="#111" stroke-width="0.25">Time (h)</text>
<text x="285" y="1059.6" font-size="8.3" text-anchor="middle" font-weight="normal" fill="#111" stroke="#111" stroke-width="0.25" transform="rotate(-90 285 1059.6)">Release (%)</text>
<clipPath id="clipC"><rect x="304" y="962.1" width="352.2" height="195"/></clipPath>
<g clip-path="url(#clipC)">
<circle cx="326.01" cy="995.12" r="1.9" fill="none" stroke="#0000ff" stroke-width="1.1"/>
<circle cx="348.02" cy="987.84" r="1.9" fill="none" stroke="#0000ff" stroke-width="1.1"/>
<circle cx="392.05" cy="986.02" r="1.9" fill="none" stroke="#0000ff" stroke-width="1.1"/>
<circle cx="436.08" cy="984.46" r="1.9" fill="none" stroke="#0000ff" stroke-width="1.1"/>
<circle cx="480.1" cy="983.68" r="1.9" fill="none" stroke="#0000ff" stroke-width="1.1"/>
<circle cx="568.15" cy="983.68" r="1.9" fill="none" stroke="#0000ff" stroke-width="1.1"/>
<circle cx="656.2" cy="983.42" r="1.9" fill="none" stroke="#0000ff" stroke-width="1.1"/>
<rect x="324.61" y="1014.35" width="4" height="4" fill="none" stroke="#ff0000" stroke-width="1.1"/>
<rect x="346.62" y="1013.44" width="4" height="4" fill="none" stroke="#ff0000" stroke-width="1.1"/>
<rect x="390.65" y="1013.44" width="4" height="4" fill="none" stroke="#ff0000" stroke-width="1.1"/>
<rect x="434.68" y="1013.44" width="4" height="4" fill="none" stroke="#ff0000" stroke-width="1.1"/>
<rect x="478.7" y="1013.44" width="4" height="4" fill="none" stroke="#ff0000" stroke-width="1.1"/>
<rect x="566.75" y="1013.44" width="4" height="4" fill="none" stroke="#ff0000" stroke-width="1.1"/>
<rect x="654.8" y="1013.18" width="4" height="4" fill="none" stroke="#ff0000" stroke-width="1.1"/>
<path d="M326.01 978.72L328.11 980.82L326.01 982.92L323.91 980.82Z" fill="none" stroke="#0b6e0b" stroke-width="1.1" stroke-linejoin="miter"/>
<path d="M348.02 977.68L350.12 979.78L348.02 981.88L345.92 979.78Z" fill="none" stroke="#0b6e0b" stroke-width="1.1" stroke-linejoin="miter"/>
<path d="M392.05 978.2L394.15 980.3L392.05 982.4L389.95 980.3Z" fill="none" stroke="#0b6e0b" stroke-width="1.1" stroke-linejoin="miter"/>
<path d="M436.08 978.2L438.18 980.3L436.08 982.4L433.98 980.3Z" fill="none" stroke="#0b6e0b" stroke-width="1.1" stroke-linejoin="miter"/>
<path d="M480.1 977.68L482.2 979.78L480.1 981.88L478 979.78Z" fill="none" stroke="#0b6e0b" stroke-width="1.1" stroke-linejoin="miter"/>
<path d="M568.15 977.68L570.25 979.78L568.15 981.88L566.05 979.78Z" fill="none" stroke="#0b6e0b" stroke-width="1.1" stroke-linejoin="miter"/>
<path d="M656.2 977.42L658.3 979.52L656.2 981.62L654.1 979.52Z" fill="none" stroke="#0b6e0b" stroke-width="1.1" stroke-linejoin="miter"/>
</g>
<path d="M326.01 1157.1v-1.1M326.01 962.1v1.1M348.02 1157.1v-1.1M348.02 962.1v1.1M370.04 1157.1v-1.1M370.04 962.1v1.1M392.05 1157.1v-1.1M392.05 962.1v1.1M414.06 1157.1v-1.1M414.06 962.1v1.1M436.08 1157.1v-1.1M436.08 962.1v1.1M458.09 1157.1v-1.1M458.09 962.1v1.1M480.1 1157.1v-1.1M480.1 962.1v1.1M502.11 1157.1v-1.1M502.11 962.1v1.1M524.12 1157.1v-1.1M524.12 962.1v1.1M546.14 1157.1v-1.1M546.14 962.1v1.1M568.15 1157.1v-1.1M568.15 962.1v1.1M590.16 1157.1v-1.1M590.16 962.1v1.1M612.18 1157.1v-1.1M612.18 962.1v1.1M634.19 1157.1v-1.1M634.19 962.1v1.1M304 1151.9h1.1M656.2 1151.9h-1.1M304 1146.7h1.1M656.2 1146.7h-1.1M304 1141.5h1.1M656.2 1141.5h-1.1M304 1136.3h1.1M656.2 1136.3h-1.1M304 1131.1h1.1M656.2 1131.1h-1.1M304 1125.9h1.1M656.2 1125.9h-1.1M304 1120.7h1.1M656.2 1120.7h-1.1M304 1115.5h1.1M656.2 1115.5h-1.1M304 1110.3h1.1M656.2 1110.3h-1.1M304 1105.1h1.1M656.2 1105.1h-1.1M304 1099.9h1.1M656.2 1099.9h-1.1M304 1094.7h1.1M656.2 1094.7h-1.1M304 1089.5h1.1M656.2 1089.5h-1.1M304 1084.3h1.1M656.2 1084.3h-1.1M304 1079.1h1.1M656.2 1079.1h-1.1M304 1073.9h1.1M656.2 1073.9h-1.1M304 1068.7h1.1M656.2 1068.7h-1.1M304 1063.5h1.1M656.2 1063.5h-1.1M304 1058.3h1.1M656.2 1058.3h-1.1M304 1053.1h1.1M656.2 1053.1h-1.1M304 1047.9h1.1M656.2 1047.9h-1.1M304 1042.7h1.1M656.2 1042.7h-1.1M304 1037.5h1.1M656.2 1037.5h-1.1M304 1032.3h1.1M656.2 1032.3h-1.1M304 1027.1h1.1M656.2 1027.1h-1.1M304 1021.9h1.1M656.2 1021.9h-1.1M304 1016.7h1.1M656.2 1016.7h-1.1M304 1011.5h1.1M656.2 1011.5h-1.1M304 1006.3h1.1M656.2 1006.3h-1.1M304 1001.1h1.1M656.2 1001.1h-1.1M304 995.9h1.1M656.2 995.9h-1.1M304 990.7h1.1M656.2 990.7h-1.1M304 985.5h1.1M656.2 985.5h-1.1M304 980.3h1.1M656.2 980.3h-1.1M304 975.1h1.1M656.2 975.1h-1.1M304 969.9h1.1M656.2 969.9h-1.1M304 964.7h1.1M656.2 964.7h-1.1" stroke="#2b2b2b" stroke-width="1" fill="none"/>
<rect x="304" y="962.1" width="352.2" height="195" fill="none" stroke="#2b2b2b" stroke-width="1.3"/>
</svg>
</body></html>
